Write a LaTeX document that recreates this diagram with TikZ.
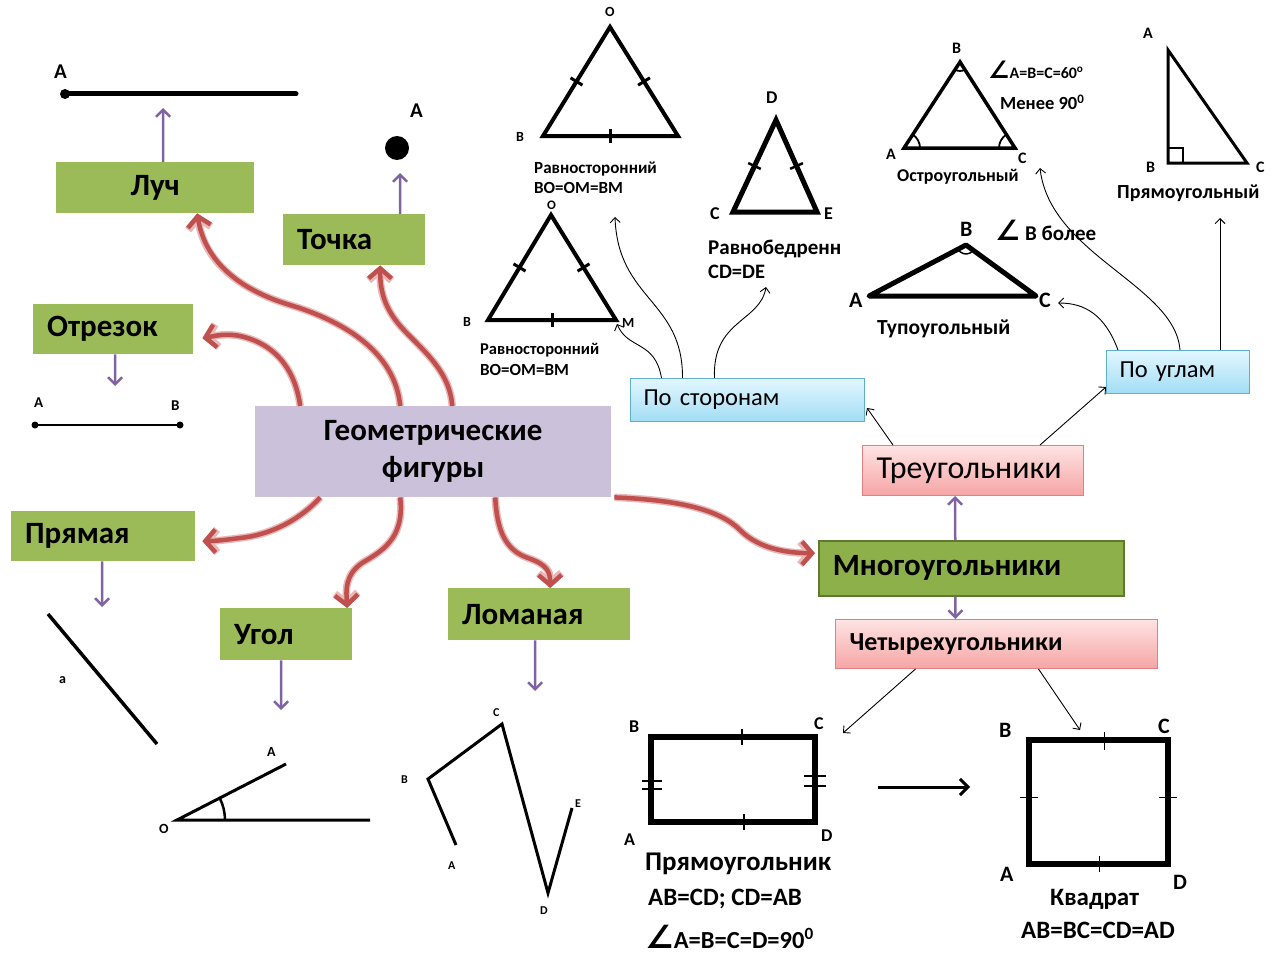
\documentclass[tikz,border=0pt]{standalone}
\usepackage{fontspec}
\setmainfont{Carlito}
\newfontfamily\dv{DejaVu Sans}
\usetikzlibrary{arrows.meta,calc}
\definecolor{gfill}{HTML}{9BBB59}
\definecolor{gdark}{HTML}{8DB04A}
\definecolor{gline}{HTML}{5E7A2E}
\definecolor{lav}{HTML}{CCC1DA}
\definecolor{rd}{HTML}{C0504D}
\definecolor{rdglow}{HTML}{E9B9B8}
\definecolor{pu}{HTML}{8064A2}
\definecolor{pktop}{HTML}{FFE3E3}
\definecolor{pkbot}{HTML}{F6A5A5}
\definecolor{pkline}{HTML}{E08080}
\definecolor{bltop}{HTML}{E2F7FF}
\definecolor{blbot}{HTML}{A2DDF4}
\definecolor{blline}{HTML}{5FB0CC}
\newcommand\fsz[1]{\fontsize{#1}{#1}\selectfont}
\newcommand\tickmark[3]{\draw[#3] ($(#1)!0.5!(#2)!7pt!90:(#2)$) -- ($(#1)!0.5!(#2)!7pt!-90:(#2)$);}
\tikzset{
  box/.style={anchor=north west, inner ysep=0pt, inner xsep=14pt, align=left, font=\bfseries\fsz{31}},
  gbox/.style={box, fill=gfill},
  pbox/.style={box, draw=pkline, line width=1pt, top color=pktop, bottom color=pkbot},
  bbox/.style={box, draw=blline, line width=1pt, top color=bltop, bottom color=blbot, font=\fsz{24.5}},
  redarr/.style={draw=rd, line width=4.5pt, -{Straight Barb[length=10pt,width=23pt]},
     preaction={draw=rdglow, line width=7.5pt, -{Straight Barb[length=10pt,width=23pt]}}},
  parr/.style={draw=pu, line width=2.5pt, -{Straight Barb[length=7pt,width=14pt]}},
  tarr/.style={draw=black, line width=0.9pt, -{Straight Barb[length=5pt,width=10pt]}},
  lbl/.style={inner sep=0pt, anchor=west},
  fig/.style={line width=4pt, line join=miter},
}
\begin{document}
\begin{tikzpicture}[x=1pt,y=-1pt]
\useasboundingbox (0,0) rectangle (1284,955);
% ---------- boxes ----------
\node[gbox, minimum height=51pt, text width=170pt, align=center] (luch) at (56,162) {Луч};
\node[gbox, minimum height=51pt, text width=114pt] (tochka) at (283,214) {Точка};
\node[gbox, minimum height=50pt, text width=132pt] (otr) at (33,304) {Отрезок};
\node[gbox, minimum height=50pt, text width=156pt] (prj) at (11,511) {Прямая};
\node[gbox, minimum height=52pt, text width=104pt] (ugol) at (220,608) {Угол};
\node[gbox, minimum height=52pt, text width=154pt] (lom) at (448,588) {Ломаная};
\node[box, fill=gdark, draw=gline, line width=1.5pt, minimum height=55pt, text width=277pt] (mnogo) at (818,540) {Многоугольники};
\node[box, fill=lav, minimum height=91pt, text width=328pt, align=center, font=\bfseries\fontsize{31}{37}\selectfont] (geo) at (255,406) {Геометрические\\фигуры};
\node[pbox, minimum height=50pt, text width=193pt, font=\fsz{32}] (treug) at (862,445) {Треугольники};
\node[pbox, minimum height=49pt, text width=294pt, font=\bfseries\fsz{26}] (chet) at (835,619) {Четырехугольники};
\node[bbox, minimum height=43pt, text width=208pt, inner xsep=13pt] (pstor) at (630,378) {По сторонам};
\node[bbox, minimum height=43pt, text width=117pt, inner xsep=13pt] (pugl) at (1106,350) {По углам};
% ---------- red arrows ----------
\draw[redarr] ([xshift=-33pt]geo.north) .. controls (395,350) and (340,320) .. (290,305) .. controls (240,290) and (205,262) .. ([xshift=42pt]luch.south);
\draw[redarr] ([xshift=-133pt]geo.north) .. controls (296,375) and (280,345) .. (240,336) .. controls (225,333) and (215,336) .. ([shift={(9,9)}]otr.east);
\draw[redarr] ([xshift=19pt]geo.north) .. controls (450,370) and (420,348) .. (402,328) .. controls (384,308) and (380,290) .. ([xshift=26pt]tochka.south);
\draw[redarr] ([xshift=-113pt]geo.south) .. controls (300,520) and (270,535) .. (240,538) .. controls (225,540) and (215,541) .. ([shift={(7,5)}]prj.east);
\draw[redarr] ([xshift=-33pt]geo.south) .. controls (405,540) and (380,552) .. (362,563) .. controls (345,575) and (346,590) .. ([xshift=61pt]ugol.north);
\draw[redarr] ([xshift=62pt]geo.south) .. controls (497,530) and (505,550) .. (528,558) .. controls (548,565) and (550,572) .. ([xshift=11pt]lom.north);
\draw[redarr] ([shift={(3,0)}]geo.south east) .. controls (680,500) and (720,510) .. (740,530) .. controls (760,550) and (790,553) .. ([shift={(-3,-15)}]mnogo.west);
% ---------- ray ----------
\coordinate (rayA) at (65,94);
\coordinate (rayE) at (296,94);
\coordinate (rayarr) at (163,108);
\draw[parr] ([xshift=8pt]luch.north) -- (rayarr);
\draw[line width=5pt, line cap=round] (rayA) -- (rayE);
\fill (rayA) circle[radius=5pt];
\node[lbl, font=\bfseries\fsz{21}] (lrayA) at (54,72) {A};
% ---------- point ----------
\coordinate (pt) at (397,148);
\fill (pt) circle[radius=12pt];
\node[lbl, font=\bfseries\fsz{21}] (lptA) at (410,111) {A};
\coordinate (ptarr) at (400,173);
\draw[parr] ([xshift=46pt]tochka.north) -- (ptarr);
% ---------- segment ----------
\coordinate (segarr) at (115,386);
\draw[parr] ([xshift=2pt]otr.south) -- (segarr);
\coordinate (sA) at (35,425); \coordinate (sB) at (180,425);
\draw[line width=2.5pt] (sA) -- (sB);
\fill (sA) circle[radius=3.5pt]; \fill (sB) circle[radius=3.5pt];
\node[lbl, font=\bfseries\fsz{15}] (lsA) at (34,403) {A};
\node[lbl, font=\bfseries\fsz{15}] (lsB) at (171,406) {B};
% ---------- line ----------
\coordinate (lnarr) at (102,607);
\draw[parr] ([xshift=-1pt]prj.south) -- (lnarr);
\coordinate (ln1) at (48,614); \coordinate (ln2) at (157,744);
\draw[line width=3.5pt] (ln1) -- (ln2);
\node[lbl, font=\bfseries\fsz{14}] (lna) at (59,680) {a};
% ---------- angle ----------
\coordinate (angarr) at (281,710);
\draw[parr] ([xshift=-5pt]ugol.south) -- (angarr);
\coordinate (aO) at (177,820); \coordinate (aA) at (286,764); \coordinate (aH) at (370,820);
\draw[line width=3pt] (aA) -- (aO) -- (aH);
\draw[line width=2.5pt] ([xshift=48pt]aO) arc[start angle=0, end angle=27, radius=48pt];
\node[lbl, font=\bfseries\fsz{14}] (laA) at (267,752) {A};
\node[lbl, font=\bfseries\fsz{14}] (laO) at (159,829) {O};
% ---------- polyline ----------
\coordinate (plarr) at (535,691);
\draw[parr] ([xshift=-4pt]lom.south) -- (plarr);
\coordinate (pA) at (456,845); \coordinate (pB) at (428,779); \coordinate (pC) at (502,724);
\coordinate (pD) at (548,893); \coordinate (pE) at (572,808);
\draw[line width=3pt, line join=miter] (pA) -- (pB) -- (pC) -- (pD) -- (pE);
\node[lbl, font=\bfseries\fsz{12}] (lpC) at (493,713) {C};
\node[lbl, font=\bfseries\fsz{12}] (lpB) at (401,780) {B};
\node[lbl, font=\bfseries\fsz{12}] (lpA) at (448,866) {A};
\node[lbl, font=\bfseries\fsz{12}] (lpD) at (540,911) {D};
\node[lbl, font=\bfseries\fsz{12}] (lpE) at (575,804) {E};
% ---------- equilateral 1 ----------
\coordinate (t1O) at (610,27); \coordinate (t1B) at (543,136); \coordinate (t1M) at (678,136);
\draw[fig] (t1O) -- (t1B) -- (t1M) -- cycle;
\tickmark{t1B}{t1O}{line width=3pt}
\tickmark{t1O}{t1M}{line width=3pt}
\tickmark{t1B}{t1M}{line width=3pt}
\node[lbl, font=\bfseries\fsz{14}] (lt1O) at (605,12) {O};
\node[lbl, font=\bfseries\fsz{14}] (lt1B) at (516,137) {B};
\node[lbl, font=\bfseries\fsz{17}] (lt1a) at (534,169) {Равносторонний};
\node[lbl, font=\bfseries\fsz{17}] (lt1b) at (534,188) {BO=OM=BM};
% ---------- equilateral 2 ----------
\coordinate (t2O) at (551,215); \coordinate (t2B) at (488,320); \coordinate (t2M) at (616,320);
\draw[fig] (t2O) -- (t2B) -- (t2M) -- cycle;
\tickmark{t2B}{t2O}{line width=3pt}
\tickmark{t2O}{t2M}{line width=3pt}
\tickmark{t2B}{t2M}{line width=3pt}
\node[lbl, font=\bfseries\fsz{13}] (lt2O) at (547,205) {O};
\node[lbl, font=\bfseries\fsz{14}] (lt2B) at (463,322) {B};
\node[lbl, font=\bfseries\fsz{14}] (lt2M) at (622,323) {M};
\node[lbl, font=\bfseries\fsz{16.5}] (lt2a) at (480,350) {Равносторонний};
\node[lbl, font=\bfseries\fsz{17}] (lt2b) at (480,370) {BO=OM=BM};
% ---------- isosceles ----------
\coordinate (tiD) at (776,120); \coordinate (tiC) at (733,212); \coordinate (tiE) at (817,212);
\draw[line width=5pt, line join=miter] (tiD) -- (tiC) -- (tiE) -- cycle;
\tickmark{tiC}{tiD}{line width=2.5pt}
\tickmark{tiD}{tiE}{line width=2.5pt}
\node[lbl, font=\bfseries\fsz{18}] (ltiD) at (766,98) {D};
\node[lbl, font=\bfseries\fsz{18}] (ltiC) at (710,214) {C};
\node[lbl, font=\bfseries\fsz{18}] (ltiE) at (824,214) {E};
\begin{scope}
\clip (700,230) rectangle (841,265);
\node[lbl, font=\bfseries\fsz{21}] (ltia) at (708,249) {Равнобедренный};
\end{scope}
\node[lbl, font=\bfseries\fsz{20.5}] (ltib) at (708,272) {CD=DE};
% thin arrows from По сторонам
\coordinate (ps1) at (617,324); \coordinate (ps2) at (615,217); \coordinate (ps3) at (766,287);
\draw[tarr] ([xshift=-86pt]pstor.north) .. controls (655,340) and (628,350) .. (ps1);
\draw[tarr] ([xshift=-65pt]pstor.north) .. controls (683,300) and (618,300) .. (ps2);
\draw[tarr] ([xshift=-33pt]pstor.north) .. controls (712,320) and (760,322) .. (ps3);
% ---------- acute ----------
\coordinate (acB) at (960,62); \coordinate (acA) at (904,148); \coordinate (acC) at (1015,148);
\draw[line width=3.5pt, line join=miter] (acB) -- (acA) -- (acC) -- cycle;
\draw[line width=1.8pt] ([xshift=16pt]acA) arc[start angle=0, end angle=57, radius=16pt];
\draw[line width=1.8pt] ([xshift=-16pt]acC) arc[start angle=180, end angle=123, radius=16pt];
\draw[line width=1.8pt] ($(acB)+(237:9pt)$) arc[start angle=237, end angle=303, radius=9pt];
\node[lbl, font=\bfseries\fsz{16}] (lacB) at (952,48) {B};
\node[lbl, font=\bfseries\fsz{16}] (lacA) at (886,154) {A};
\node[lbl, font=\bfseries\fsz{16}] (lacC) at (1018,158) {C};
\node[lbl, font=\bfseries\fsz{16}] (lac1) at (988,70) {{\dv\fsz{24}∠}A=B=C=60\textsuperscript{o}};
\node[lbl, font=\bfseries\fsz{18.5}] (lac2) at (1000,102) {Менее 90\textsuperscript{0}};
\node[lbl, font=\bfseries\fsz{18}] (lac3) at (897,177) {Остроугольный};
% ---------- right ----------
\coordinate (rtA) at (1168,50); \coordinate (rtB) at (1168,163); \coordinate (rtC) at (1247,163);
\draw[line width=3pt, line join=miter] (rtA) -- (rtB) -- (rtC) -- cycle;
\draw[line width=2pt] (1168,148) -- (1183,148) -- (1183,163);
\node[lbl, font=\bfseries\fsz{16}] (lrtA) at (1143,33) {A};
\node[lbl, font=\bfseries\fsz{16}] (lrtB) at (1146,167) {B};
\node[lbl, font=\bfseries\fsz{16}] (lrtC) at (1256,167) {C};
\node[lbl, font=\bfseries\fsz{20}] (lrt1) at (1117,193) {Прямоугольный};
% ---------- obtuse ----------
\coordinate (obA) at (869,296); \coordinate (obB) at (966,245); \coordinate (obC) at (1036,296);
\draw[line width=5pt, line join=round] (obA) -- (obB) -- (obC) -- cycle;
\draw[line width=1.5pt] ($(obB)+(208:9pt)$) arc[start angle=208, end angle=324, radius=9pt];
\node[lbl, font=\bfseries\fsz{22}] (lobB) at (960,229) {B};
\node[lbl, font=\bfseries\fsz{22}] (lobA) at (849,300) {A};
\node[lbl, font=\bfseries\fsz{22}] (lobC) at (1039,300) {C};
\node[lbl, font=\bfseries\fsz{21}] (lob1) at (995,230) {{\dv\fsz{28}∠} B более};
\node[lbl, font=\bfseries\fsz{21.5}] (lob2) at (877,329) {Тупоугольный};
% thin arrows from По углам
\coordinate (pu1) at (1040,168); \coordinate (pu2) at (1058,303); \coordinate (pu3) at (1220,218);
\draw[tarr] ([xshift=2pt]pugl.north) .. controls (1175,285) and (1050,255) .. (pu1);
\draw[tarr] ([xshift=-60pt]pugl.north) .. controls (1105,315) and (1085,303) .. (pu2);
\draw[tarr] ([xshift=42pt]pugl.north) -- (pu3);
% tree arrows
\draw[tarr] ([xshift=-80pt]treug.north) -- ([shift={(2,8)}]pstor.east);
\draw[tarr] ([xshift=67pt]treug.north) -- ([shift={(0,15)}]pugl.west);
\draw[parr] ([xshift=-16pt]mnogo.north) -- ([xshift=-18pt]treug.south);
\draw[parr] ([xshift=-16pt]mnogo.south) -- ([xshift=-41pt]chet.north);
\coordinate (ch1) at (843,733); \coordinate (ch2) at (1080,730);
\draw[tarr] ([xshift=-81pt]chet.south) -- (ch1);
\draw[tarr] ([xshift=42pt]chet.south) -- (ch2);
% ---------- rectangle ----------
\coordinate (rA) at (651,822); \coordinate (rB) at (651,737); \coordinate (rC) at (815,737); \coordinate (rD) at (815,822);
\draw[line width=6pt, line join=miter] (rA) -- (rB) -- (rC) -- (rD) -- cycle;
\draw[line width=2.5pt] (742,729) -- (742,745);
\draw[line width=2.5pt] (744,814) -- (744,830);
\draw[line width=2.5pt] (642,781) -- (662,781) (642,789) -- (662,789);
\draw[line width=2.5pt] (804,776) -- (826,776) (804,786) -- (826,786);
\node[lbl, font=\bfseries\fsz{18}] (lrB) at (629,727) {B};
\node[lbl, font=\bfseries\fsz{18}] (lrC) at (814,724) {C};
\node[lbl, font=\bfseries\fsz{18}] (lrA) at (624,840) {A};
\node[lbl, font=\bfseries\fsz{18}] (lrD) at (821,836) {D};
\node[lbl, font=\bfseries\fsz{27}] (lr1) at (645,864) {Прямоугольник};
\node[lbl, font=\bfseries\fsz{25}] (lr2) at (648,899) {AB=CD; CD=AB};
\node[lbl, font=\bfseries\fsz{24.5}] (lr3) at (645,937) {{\dv\fsz{32}∠}A=B=C=D=90\textsuperscript{0}};
% ---------- square ----------
\coordinate (qA) at (1029,864); \coordinate (qB) at (1029,740); \coordinate (qC) at (1168,740); \coordinate (qD) at (1168,864);
\draw[line width=6pt, line join=miter] (qA) -- (qB) -- (qC) -- (qD) -- cycle;
\draw[line width=0.8pt] (1104,732) -- (1104,750) (1099,856) -- (1099,872) (1020,797) -- (1038,797) (1159,797) -- (1177,797);
\node[lbl, font=\bfseries\fsz{22}] (lqB) at (999,730) {B};
\node[lbl, font=\bfseries\fsz{22}] (lqC) at (1158,726) {C};
\node[lbl, font=\bfseries\fsz{22}] (lqA) at (1000,874) {A};
\node[lbl, font=\bfseries\fsz{22}] (lqD) at (1173,882) {D};
\node[lbl, font=\bfseries\fsz{25}] (lq1) at (1050,899) {Квадрат};
\node[lbl, font=\bfseries\fsz{25}] (lq2) at (1021,930) {AB=BC=CD=AD};
% arrow rect -> square
\coordinate (rs1) at (878,787); \coordinate (rs2) at (970,787);
\draw[line width=3pt, -{Straight Barb[length=8pt,width=16pt]}] (rs1) -- (rs2);
\end{tikzpicture}
\end{document}
